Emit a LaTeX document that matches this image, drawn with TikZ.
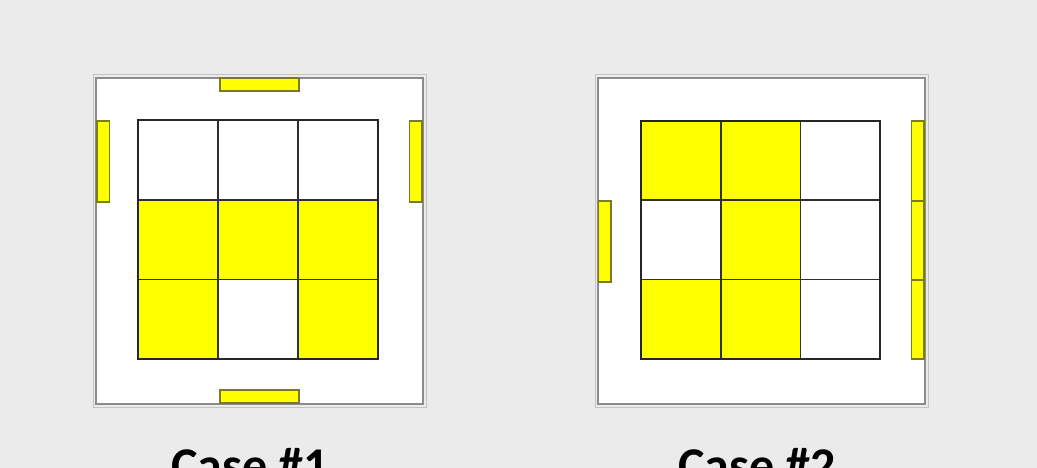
\documentclass[tikz,border=0pt]{standalone}
\usepackage{fontspec}
\setmainfont{Carlito}
\definecolor{bg}{HTML}{EBEBEB}
\definecolor{yel}{HTML}{FFFF00}
\definecolor{tabedge}{HTML}{7A7A20}
\definecolor{frameg}{HTML}{8C8C8C}
\definecolor{framel}{HTML}{C4C4C4}
\definecolor{gridc}{HTML}{303030}
\begin{document}
\begin{tikzpicture}[x=1pt,y=-1pt,
  cell/.style={draw=gridc,line width=1.7pt,minimum width=80pt,minimum height=80pt,inner sep=0pt,outer sep=0pt,anchor=north west},
  ycell/.style={cell,fill=yel},
  wcell/.style={cell,fill=white},
  frame/.style={draw=frameg,line width=1.4pt,fill=white,inner sep=0pt,outer sep=0pt,anchor=north west,minimum width=327pt,minimum height=326pt},
  tab/.style={draw=tabedge,line width=1.2pt,fill=yel,inner sep=0pt,outer sep=0pt,anchor=north west},
  htab/.style={tab,minimum width=79pt,minimum height=13pt},
  vtab/.style={tab,minimum width=12.5pt,minimum height=81pt},
  gridbox/.style={draw=black!85,line width=2.2pt,inner sep=0pt,outer sep=0pt,anchor=north west,minimum width=240pt,minimum height=239pt},
  caption/.style={font=\bfseries\fontsize{50}{60}\selectfont,anchor=base,inner sep=0pt}]
\useasboundingbox (0,0) rectangle (1037,468);
\fill[bg] (0,0) rectangle (1037,468);
\clip (0,0) rectangle (1037,468);
% left panel
\draw[framel,line width=1pt] (93,75) rectangle (426,407);
\node[frame] (f1) at (96,78) {};
\node[htab] (t1top) at (220,78) {};
\node[htab] (t1bot) at (220,390) {};
\node[vtab] (t1left) at (97,121) {};
\node[vtab] (t1right) at (409.5,121) {};
\foreach \r/\c/\s in {0/0/w,0/1/w,0/2/w,1/0/y,1/1/y,1/2/y,2/0/y,2/1/w,2/2/y}{
  \node[\s cell] (a\r\c) at ({138+80*\c},{120+79.7*\r}) {};
}
\node[gridbox] (g1) at (138,120) {};
% right panel
\draw[framel,line width=1pt] (595,75) rectangle (928,407);
\node[frame] (f2) at (598,78) {};
\node[vtab] (t2left) at (598.5,201) {};
\node[vtab,minimum height=80pt] (t2r1) at (911.5,121) {};
\node[vtab,minimum height=79pt] (t2r2) at (911.5,201) {};
\node[vtab,minimum height=79pt] (t2r3) at (911.5,280) {};
\foreach \r/\c/\s in {0/0/y,0/1/y,0/2/w,1/0/w,1/1/y,1/2/w,2/0/y,2/1/y,2/2/w}{
  \node[\s cell] (b\r\c) at ({641+79.7*\c},{121+79.3*\r}) {};
}
\node[gridbox,minimum width=239pt,minimum height=238pt] (g2) at (641,121) {};
% captions
\node[caption] (c1) at (250,482) {Case \#1};
\node[caption] (c2) at (757,482) {Case \#2};
\end{tikzpicture}
\end{document}
